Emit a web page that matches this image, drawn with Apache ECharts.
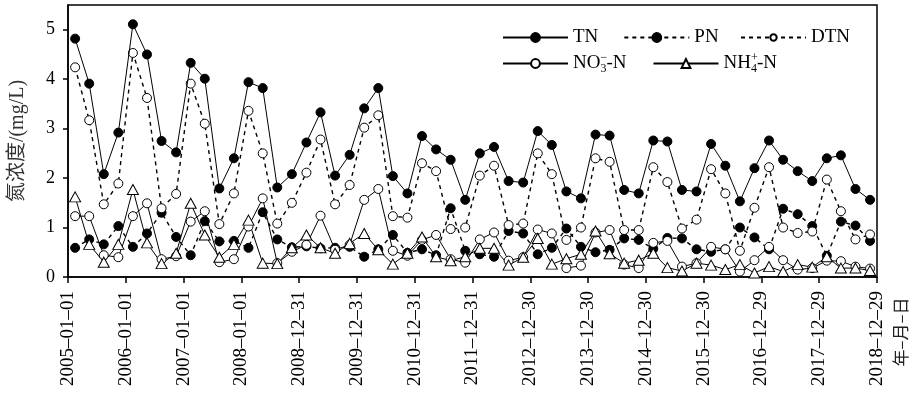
<!DOCTYPE html>
<html>
<head>
<meta charset="utf-8">
<script src="https://cdn.jsdelivr.net/npm/echarts@6/dist/echarts.min.js"></script>
<style>
  html, body { margin: 0; padding: 0; background: #fff; }
  #chart { width: 914px; height: 393px; }
</style>
</head>
<body>
<div id="chart"></div>
<script>
// Quarterly sampling dates (Feb, May, Aug, Nov)
const sampleDates = [
  '2005-02-15', '2005-05-15', '2005-08-15', '2005-11-15',
  '2006-02-15', '2006-05-15', '2006-08-15', '2006-11-15',
  '2007-02-15', '2007-05-15', '2007-08-15', '2007-11-15',
  '2008-02-15', '2008-05-15', '2008-08-15', '2008-11-15',
  '2009-02-15', '2009-05-15', '2009-08-15', '2009-11-15',
  '2010-02-15', '2010-05-15', '2010-08-15', '2010-11-15',
  '2011-02-15', '2011-05-15', '2011-08-15', '2011-11-15',
  '2012-02-15', '2012-05-15', '2012-08-15', '2012-11-15',
  '2013-02-15', '2013-05-15', '2013-08-15', '2013-11-15',
  '2014-02-15', '2014-05-15', '2014-08-15', '2014-11-15',
  '2015-02-15', '2015-05-15', '2015-08-15', '2015-11-15',
  '2016-02-15', '2016-05-15', '2016-08-15', '2016-11-15',
  '2017-02-15', '2017-05-15', '2017-08-15', '2017-11-15',
  '2018-02-15', '2018-05-15', '2018-08-15', '2018-11-15'
];

// Nitrogen concentrations, mg/L
const tnValues = [
  4.82, 3.91, 2.08, 2.92,  5.11, 4.50, 2.75, 2.52,  4.33, 4.01, 1.79, 2.40,
  3.94, 3.82, 1.81, 2.08,  2.72, 3.33, 2.05, 2.47,  3.41, 3.82, 2.04, 1.69,
  2.85, 2.58, 2.37, 1.56,  2.50, 2.63, 1.94, 1.91,  2.95, 2.67, 1.73, 1.59,
  2.88, 2.86, 1.76, 1.69,  2.76, 2.74, 1.76, 1.73,  2.69, 2.25, 1.53, 2.20,
  2.76, 2.37, 2.14, 1.94,  2.40, 2.46, 1.78, 1.56
];
const pnValues = [
  0.59, 0.76, 0.66, 1.03,  0.61, 0.88, 1.30, 0.81,  0.44, 1.13, 0.72, 0.73,
  0.59, 1.31, 0.76, 0.60,  0.62, 0.58, 0.59, 0.61,  0.41, 0.56, 0.85, 0.49,
  0.56, 0.44, 1.39, 0.53,  0.46, 0.41, 0.93, 0.88,  0.46, 0.59, 0.98, 0.61,
  0.50, 0.55, 0.78, 0.75,  0.57, 0.79, 0.78, 0.56,  0.51, 0.56, 1.00, 0.80,
  0.56, 1.38, 1.27, 1.03,  0.43, 1.12, 1.04, 0.73
];
const dtnValues = [
  4.24, 3.17, 1.47, 1.89,  4.53, 3.62, 1.39, 1.68,  3.91, 3.10, 1.07, 1.69,
  3.36, 2.50, 1.08, 1.50,  2.11, 2.78, 1.47, 1.86,  3.02, 3.27, 1.23, 1.20,
  2.30, 2.14, 0.97, 1.00,  2.05, 2.25, 1.05, 1.08,  2.50, 2.08, 0.75, 1.00,
  2.40, 2.33, 0.95, 0.95,  2.22, 1.92, 0.98, 1.16,  2.18, 1.69, 0.53, 1.40,
  2.22, 1.00, 0.89, 0.92,  1.97, 1.33, 0.76, 0.86
];
const no3Values = [
  1.23, 1.23, 0.44, 0.40,  1.23, 1.49, 0.36, 0.42,  1.12, 1.33, 0.30, 0.36,
  1.02, 1.59, 0.28, 0.51,  0.65, 1.24, 0.55, 0.65,  1.56, 1.78, 0.53, 0.43,
  0.75, 0.85, 0.36, 0.29,  0.76, 0.90, 0.33, 0.40,  0.96, 0.88, 0.18, 0.23,
  0.90, 0.95, 0.25, 0.18,  0.69, 0.73, 0.21, 0.28,  0.61, 0.56, 0.11, 0.34,
  0.61, 0.34, 0.15, 0.18,  0.33, 0.32, 0.21, 0.17
];
const nh4Values = [
  1.62, 0.66, 0.30, 0.66,  1.77, 0.69, 0.27, 0.48,  1.49, 0.85, 0.40, 0.66,
  1.15, 0.28, 0.27, 0.59,  0.85, 0.59, 0.48, 0.68,  0.88, 0.55, 0.26, 0.48,
  0.81, 0.41, 0.33, 0.41,  0.58, 0.58, 0.24, 0.40,  0.78, 0.26, 0.37, 0.46,
  0.93, 0.47, 0.28, 0.34,  0.48, 0.19, 0.12, 0.28,  0.24, 0.15, 0.25, 0.08,
  0.21, 0.11, 0.25, 0.20,  0.41, 0.18, 0.18, 0.13
];

// Axis ticks: one every 365 days from 2005-01-01
const xTickLabels = [
  '2005–01–01', '2006–01–01', '2007–01–01', '2008–01–01', '2008–12–31',
  '2009–12–31', '2010–12–31', '2011–12–31', '2012–12–30', '2013–12–30',
  '2014–12–30', '2015–12–30', '2016–12–29', '2017–12–29', '2018–12–29'
];
const yTickValues = [0, 1, 2, 3, 4, 5];

const TICK_DAYS = 365;
const ORIGIN = Date.UTC(2005, 0, 1);
const SERIF = "'Liberation Serif', 'Times New Roman', 'Noto Sans CJK SC', serif";

function dayOffset(s) {
  const [y, m, d] = s.split('-').map(Number);
  return (Date.UTC(y, m - 1, d) - ORIGIN) / 86400000;
}
const xDays = sampleDates.map(dayOffset);
const pairs = vals => vals.map((v, i) => [xDays[i], v]);

const filled = { color: '#000', borderColor: '#000', borderWidth: 1 };
const hollow = { color: '#fff', borderColor: '#000', borderWidth: 1 };

const chart = echarts.init(document.getElementById('chart'), null, { renderer: 'canvas' });

const richParts = {
  sub: { fontFamily: SERIF, fontSize: 12, color: '#000', padding: [11, 0, 0, 0] },
  sup: { fontFamily: SERIF, fontSize: 12, color: '#000', padding: [0, 0, 11, 0], width: 0 }
};
const legendText = { fontFamily: SERIF, fontSize: 19, color: '#000', rich: richParts };

chart.setOption({
  animation: false,
  backgroundColor: '#fff',
  grid: {
    left: 68, right: 37, top: 5, bottom: 116,
    show: true, borderColor: '#000', borderWidth: 1.5, backgroundColor: 'transparent'
  },
  legend: [
    {
      left: 497, top: 23, orient: 'horizontal',
      itemWidth: 65, itemHeight: 11, itemGap: 25,
      data: ['TN', 'PN'], textStyle: legendText
    },
    {
      left: 735, top: 23, orient: 'horizontal',
      itemWidth: 65, itemHeight: 8,
      data: ['DTN'], textStyle: legendText
    },
    {
      left: 497, top: 47, orient: 'horizontal',
      itemWidth: 65, itemHeight: 11, itemGap: 26,
      data: ['NO3-N', 'NH4-N'],
      formatter: name => name === 'NO3-N' ? 'NO{sup|−}{sub|3}-N' : 'NH{sup|+}{sub|4}-N',
      textStyle: legendText
    }
  ],
  xAxis: {
    type: 'value',
    min: 0, max: TICK_DAYS * (xTickLabels.length - 1), interval: TICK_DAYS,
    splitLine: { show: false },
    axisLine: { lineStyle: { color: '#000', width: 1.5 } },
    axisTick: { length: 6, lineStyle: { color: '#000', width: 1.5 } },
    axisLabel: {
      rotate: 90, margin: 14, color: '#000', fontFamily: SERIF, fontSize: 19,
      formatter: v => xTickLabels[Math.round(v / TICK_DAYS)] || ''
    }
  },
  yAxis: {
    type: 'value', min: 0, max: 5.5,
    name: '氮浓度/(mg/L)', nameLocation: 'middle', nameGap: 40,
    nameTextStyle: { fontFamily: SERIF, fontSize: 20, color: '#333' },
    splitLine: { show: false },
    axisLine: { lineStyle: { color: '#000', width: 1.5 } },
    axisTick: { length: 5, customValues: yTickValues, lineStyle: { color: '#000', width: 1.5 } },
    axisLabel: {
      customValues: yTickValues, margin: 13, color: '#000', fontFamily: SERIF, fontSize: 18
    }
  },
  graphic: [{
    type: 'text', x: 901, y: 332, rotation: Math.PI / 2,
    style: {
      text: '年–月–日', fill: '#222', font: "17px 'Noto Sans CJK SC', sans-serif",
      align: 'center', verticalAlign: 'middle'
    }
  }],
  series: [
    {
      name: 'TN', type: 'line', data: pairs(tnValues),
      symbol: 'circle', symbolSize: 9, itemStyle: filled,
      lineStyle: { color: '#000', width: 1 }, z: 3
    },
    {
      name: 'PN', type: 'line', data: pairs(pnValues),
      symbol: 'circle', symbolSize: 9, itemStyle: filled,
      lineStyle: { color: '#000', width: 1.4, type: [4, 4] }, z: 2
    },
    {
      name: 'DTN', type: 'line', data: pairs(dtnValues),
      symbol: 'circle', symbolSize: 9, itemStyle: hollow,
      lineStyle: { color: '#000', width: 1.4, type: [4, 4] }, z: 2
    },
    {
      name: 'NO3-N', type: 'line', data: pairs(no3Values),
      symbol: 'circle', symbolSize: 9, itemStyle: hollow,
      lineStyle: { color: '#000', width: 1 }, z: 4
    },
    {
      name: 'NH4-N', type: 'line', data: pairs(nh4Values),
      symbol: 'triangle', symbolSize: [11, 10], itemStyle: hollow,
      lineStyle: { color: '#000', width: 1 }, z: 4
    }
  ]
});
</script>
</body>
</html>
